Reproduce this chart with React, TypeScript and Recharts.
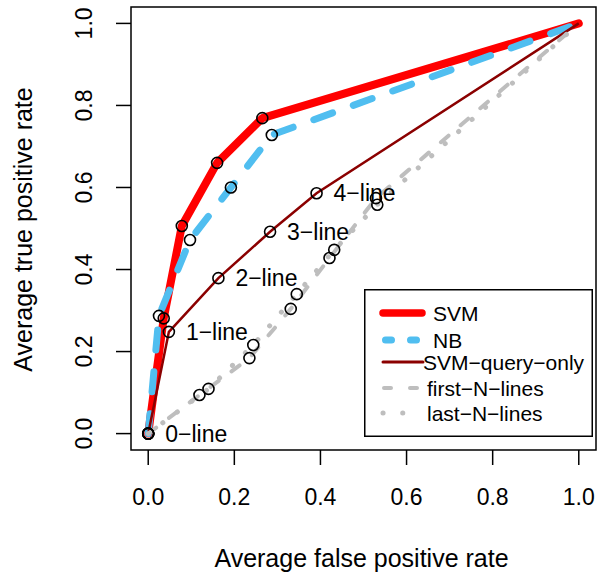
import { LineChart, Line, XAxis, YAxis, Legend, LabelList, ReferenceArea, Label } from 'recharts';

// values
const svmFpr = [0, 0.036, 0.078, 0.16, 0.265, 1];
const svmTpr = [0, 0.281, 0.506, 0.66, 0.769, 1];
const nbFpr = [0, 0.025, 0.097, 0.192, 0.287, 1];
const nbTpr = [0, 0.287, 0.472, 0.6, 0.728, 1];
const queryFpr = [0, 0.048, 0.163, 0.283, 0.391, 1];
const queryTpr = [0, 0.248, 0.379, 0.492, 0.586, 1];
const queryLabels = ['0−line', '1−line', '2−line', '3−line', '4−line', ''];
const firstFpr = [0, 0.119, 0.235, 0.331, 0.421, 0.529, 1];
const firstTpr = [0, 0.094, 0.184, 0.304, 0.428, 0.574, 1];
const lastFpr = [0, 0.14, 0.244, 0.345, 0.432, 0.532, 1];
const lastTpr = [0, 0.109, 0.216, 0.34, 0.448, 0.558, 1];
const axisTicks = [0, 0.2, 0.4, 0.6, 0.8, 1];

const FONT = '"Liberation Sans", Arial, Helvetica, sans-serif';

const pts = (xs: number[], ys: number[], labels?: string[]) =>
  xs.map((x, i) => ({ x, y: ys[i], label: labels ? labels[i] : '' }));

const svmData = pts(svmFpr, svmTpr);
const nbData = pts(nbFpr, nbTpr);
const queryData = pts(queryFpr, queryTpr, queryLabels);
const firstData = pts(firstFpr, firstTpr);
const lastData = pts(lastFpr, lastTpr);

// open black circle on every point except the (1,1) end
const makeDot = (n: number) => (p: any) => {
  if (p.index === n - 1) return <g key={`d-${p.index}`} />;
  return <circle key={`d-${p.index}`} cx={p.cx} cy={p.cy} r={5.5} fill="none" stroke="#000" strokeWidth={1.6} />;
};

const XTick = (p: any) => (
  <text x={p.x} y={p.y + 40} textAnchor="middle" fontSize={23} fontFamily={FONT} fill="#000">
    {Number(p.payload.value).toFixed(1)}
  </text>
);

const YTick = (p: any) => (
  <text transform={`translate(${p.x - 24},${p.y}) rotate(-90)`} textAnchor="middle" fontSize={23} fontFamily={FONT} fill="#000">
    {Number(p.payload.value).toFixed(1)}
  </text>
);

const LineLabel = (p: any) => {
  if (!p.value) return null;
  return (
    <text x={p.x + 17} y={p.y + 8} fontSize={23} fontFamily={FONT} fill="#000">
      {p.value}
    </text>
  );
};

const legendItems = [
  { name: 'SVM', color: '#ff0000', width: 7.5, dash: undefined, x1: 19, x2: 58, cy: 24, tx: 69 },
  { name: 'NB', color: '#50bef0', width: 7, dash: '6 19', x1: 21.5, x2: 58, cy: 51, tx: 69 },
  { name: 'SVM−query−only', color: '#8b0000', width: 3, dash: undefined, x1: 19, x2: 59, cy: 73, tx: 59 },
  { name: 'first−N−lines', color: '#bebebe', width: 4, dash: '7 19', x1: 20, x2: 58, cy: 99, tx: 63 },
  { name: 'last−N−lines', color: '#bebebe', width: 5, dash: '0.1 19.6', x1: 19, x2: 40, cy: 124, tx: 63 },
];

const LegendBox = () => (
  <svg width={229} height={148} style={{ display: 'block' }}>
    <rect x={0.75} y={0.75} width={227.5} height={146.5} fill="#fff" stroke="#000" strokeWidth={1.5} />
    {legendItems.map((it) => (
      <g key={it.name}>
        <line x1={it.x1} x2={it.x2} y1={it.cy} y2={it.cy} stroke={it.color} strokeWidth={it.width} strokeDasharray={it.dash} strokeLinecap="round" />
        <text x={it.tx} y={it.cy + 7.5} fontSize={21} fontFamily={FONT} fill="#000">
          {it.name}
        </text>
      </g>
    ))}
  </svg>
);

export default function App() {
  return (
    <div style={{ position: 'absolute', left: 0, top: 0, background: '#fff' }}>
      <LineChart width={601} height={576} margin={{ top: 7, right: 5, bottom: 0, left: 0 }}>
        <XAxis
          dataKey="x"
          type="number"
          domain={[-0.04, 1.04]}
          ticks={axisTicks}
          tick={<XTick />}
          tickSize={15}
          tickMargin={0}
          tickLine={{ stroke: '#000', strokeWidth: 1.5 }}
          axisLine={false}
          height={126}
          allowDataOverflow
        >
          <Label
            content={(props: any) => {
              const vb = props.viewBox ?? { x: 131, y: 450, width: 465, height: 126 };
              return (
                <text x={vb.x + vb.width / 2 - 2} y={vb.y + 117} textAnchor="middle" fontSize={25} fontFamily={FONT} fill="#000">
                  Average false positive rate
                </text>
              );
            }}
          />
        </XAxis>
        <YAxis
          dataKey="y"
          type="number"
          domain={[-0.04, 1.04]}
          ticks={axisTicks}
          tick={<YTick />}
          tickSize={15}
          tickMargin={0}
          tickLine={{ stroke: '#000', strokeWidth: 1.5 }}
          axisLine={false}
          width={131}
          allowDataOverflow
        >
          <Label
            content={(props: any) => {
              const vb = props.viewBox ?? { x: 0, y: 7, width: 131, height: 443 };
              const cy = vb.y + vb.height / 2 + 1;
              return (
                <text transform={`translate(${vb.x + 32},${cy}) rotate(-90)`} textAnchor="middle" fontSize={25} fontFamily={FONT} fill="#000">
                  Average true positive rate
                </text>
              );
            }}
          />
        </YAxis>
        <ReferenceArea x1={-0.04} x2={1.04} y1={-0.04} y2={1.04} fill="none" stroke="#000" strokeWidth={1.5} ifOverflow="visible" />
        <Line data={svmData} dataKey="y" stroke="#ff0000" strokeWidth={8} strokeLinejoin="round" strokeLinecap="round" dot={makeDot(svmData.length)} activeDot={false} isAnimationActive={false} />
        <Line data={nbData} dataKey="y" stroke="#50bef0" strokeWidth={7} strokeDasharray="20 22" strokeLinecap="round" dot={makeDot(nbData.length)} activeDot={false} isAnimationActive={false} />
        <Line data={queryData} dataKey="y" stroke="#8b0000" strokeWidth={2.5} dot={makeDot(queryData.length)} activeDot={false} isAnimationActive={false}>
          <LabelList dataKey="label" content={<LineLabel />} />
        </Line>
        <Line data={firstData} dataKey="y" stroke="#bebebe" strokeWidth={4} strokeDasharray="10 16" strokeLinecap="round" dot={makeDot(firstData.length)} activeDot={false} isAnimationActive={false} />
        <Line data={lastData} dataKey="y" stroke="#bebebe" strokeWidth={5} strokeDasharray="0.1 18" strokeLinecap="round" dot={makeDot(lastData.length)} activeDot={false} isAnimationActive={false} />
        <Legend
          layout="horizontal"
          verticalAlign="middle"
          align="center"
          content={<LegendBox />}
          wrapperStyle={{ left: 364, top: 289, width: 229, height: 148 }}
        />
      </LineChart>
    </div>
  );
}
